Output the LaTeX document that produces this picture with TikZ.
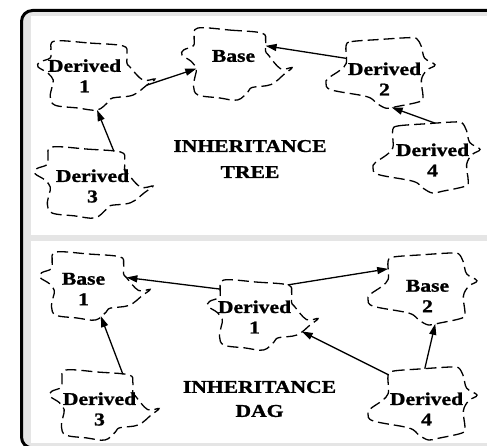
\documentclass[tikz,border=0pt]{standalone}
\usepackage{fontspec}
\setmainfont{Liberation Serif}[FakeStretch=1.2, BoldFeatures={FakeBold=1.2}]
\usetikzlibrary{arrows.meta,calc}

\definecolor{panelgray}{gray}{0.9}

% outline of a dashed blob, as x/y fractions of its half width and half height
\def\shapeA{-0.71/-1.0,-0.11/-0.94,0.45/-0.86,0.52/-0.65,0.52/-0.36,0.57/-0.25,0.79/0.13,1.0/0.10,0.86/0.28,0.62/0.57,0.28/0.65,0.20/0.77,0.01/1.0,-0.33/0.94,-0.71/0.86,-0.79/0.62,-0.76/0.33,-0.74/0.13,-0.83/-0.07,-1.0/-0.25,-0.97/-0.39,-0.79/-0.51,-0.78/-0.74}
\def\shapeB{-0.63/-0.79,-0.53/-0.89,-0.01/-0.95,0.51/-1.0,0.66/-0.98,0.75/-0.75,0.81/-0.42,1.0/-0.23,0.85/-0.08,0.75/0.20,0.78/0.67,0.72/0.81,0.30/0.95,0.11/1.0,-0.07/0.86,-0.25/0.67,-0.90/0.48,-1.0/0.29,-0.96/0.15,-0.74/-0.08,-0.63/-0.27,-0.63/-0.56}

% \cloudat{name}{cx}{cy}{half width}{half height}{outline}
% names every outline point (name-1, name-2, ...) and draws the dashed blob
\newcommand\cloudat[6]{%
  \foreach \nx/\ny [count=\k] in #6 {\coordinate (#1-\k) at ({#2+#4*\nx},{#3+#5*\ny});}%
  \gdef\cloudpts{}%
  \foreach \nx/\ny [count=\k] in #6 {\xdef\cloudpts{\cloudpts(#1-\k)}}%
  \edef\cloudcmd{\noexpand\draw[cloudline] plot[smooth cycle, tension=0.6] coordinates {\cloudpts};}%
  \cloudcmd}

\tikzset{
  cloudline/.style={line width=1.3pt, dash pattern=on 11pt off 5pt, line cap=butt},
  arr/.style={line width=1.3pt, -{Triangle[length=11pt,width=7pt]}},
  lab/.style={inner sep=0pt, align=center, font=\fontsize{18}{20.5}\selectfont\bfseries},
  headline/.style={inner sep=0pt, align=center, font=\fontsize{18}{26}\selectfont\bfseries},
}

\begin{document}
\begin{tikzpicture}[x=1pt, y=-1pt]
\useasboundingbox (0,0) rectangle (487,446);

% frame and the two panels
\draw[line width=3pt, rounded corners=11pt, fill=panelgray] (21.5,10.5) rectangle (505,448);
\fill[white] (31,16.5) rectangle (495,235.5);
\fill[white] (31,241) rectangle (495,442.5);

% ---- tree ----
\cloudat{T1}{96.5}{75.5}{58.5}{34.5}{\shapeA}
\cloudat{T0}{237}{64}{55}{36}{\shapeA}
\cloudat{T2}{380.5}{73}{54.5}{35.3}{\shapeB}
\cloudat{T3}{94}{182.5}{59}{35.5}{\shapeA}
\cloudat{T4}{426.5}{157.5}{53.5}{35.5}{\shapeB}

\node[lab] (T1t) at (84.5,75.8) {Derived\\1};
\node[lab] (T0t) at (233.5,56) {Base};
\node[lab] (T2t) at (384.5,79) {Derived\\2};
\node[lab] (T3t) at (92.5,186) {Derived\\3};
\node[lab] (T4t) at (432.5,160) {Derived\\4};
\node[headline] (tree) at (250,159) {INHERITANCE\\TREE};

\draw[arr] ($(T3-2)!0.8!(T3-3)$) -- (T1-13);
\draw[arr] (T1-9) -- (T0-18);
\draw[arr] ($(T2-21)!0.5!(T2-22)$) -- ($(T0-4)!0.5!(T0-5)$);
\draw[arr] ($(T4-3)!0.33!(T4-4)$) -- ($(T2-13)!0.5!(T2-14)$);

% ---- dag ----
\cloudat{B1}{95}{286}{55}{34}{\shapeA}
\cloudat{BD1}{263}{315}{55}{35}{\shapeA}
\cloudat{B2}{422.5}{289}{54.5}{36}{\shapeB}
\cloudat{BD3}{104.5}{405}{54.5}{35}{\shapeA}
\cloudat{BD4}{422.5}{403.5}{54.5}{36.5}{\shapeB}

\node[lab] (B1t) at (83.5,289) {Base\\1};
\node[lab] (BD1t) at (254.5,317) {Derived\\1};
\node[lab] (B2t) at (427.5,296) {Base\\2};
\node[lab] (BD3t) at (99.5,409) {Derived\\3};
\node[lab] (BD4t) at (426.5,409) {Derived\\4};
\node[headline, font=\fontsize{18}{24}\selectfont\bfseries] (dag) at (259.5,399) {INHERITANCE\\DAG};

\draw[arr] ($(BD3-2)!0.8!(BD3-3)$) -- ($(B1-12)!0.5!(B1-13)$);
\draw[arr] (BD1-23) -- (B1-6);
\draw[arr] (BD1-3) -- (B2-22);
\draw[arr] (BD4-1) -- ($(BD1-10)!0.35!(BD1-9)$);
\draw[arr] ($(BD4-3)!0.1!(BD4-4)$) -- ($(B2-13)!0.35!(B2-14)$);
\end{tikzpicture}
\end{document}
